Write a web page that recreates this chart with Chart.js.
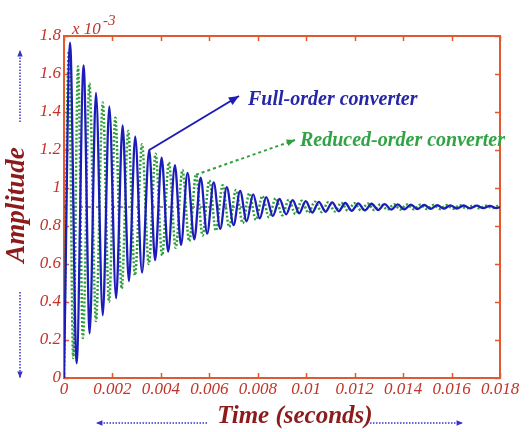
<!DOCTYPE html>
<html>
<head>
<meta charset="utf-8">
<script src="https://cdn.jsdelivr.net/npm/chart.js@4.4.1/dist/chart.umd.min.js"></script>
<style>
  html, body { margin: 0; padding: 0; background: #ffffff; }
  canvas { display: block; }
</style>
</head>
<body>
<canvas id="responseChart" width="531" height="432"></canvas>
<script>
// full-order converter response (amplitude in units of 1e-3)
const fullTime = [0, 0.00025, 0.00052, 0.00081, 0.00106, 0.00132, 0.0016, 0.00187, 0.00215, 0.00242, 0.00268, 0.00294,
    0.00322, 0.00352, 0.00376, 0.00403, 0.0043, 0.00458, 0.00483, 0.0051, 0.00538, 0.00564, 0.00591, 0.00618,
    0.00645, 0.00672, 0.007, 0.00727, 0.00754, 0.00781, 0.00808, 0.00835, 0.00862, 0.0089, 0.00917, 0.00944,
    0.00971, 0.00998, 0.01025, 0.01052, 0.0108, 0.01107, 0.01134, 0.01161, 0.01188, 0.01215, 0.01242, 0.0127,
    0.01297, 0.01324, 0.01351, 0.01378, 0.01405, 0.01432, 0.0146, 0.01487, 0.01514, 0.01541, 0.01568, 0.01595,
    0.01622, 0.0165, 0.01677, 0.01704, 0.01731, 0.01758, 0.01785, 0.018];
const fullAmp = [0, 1.765, 0.077, 1.645, 0.235, 1.50, 0.33, 1.43, 0.42, 1.33, 0.51, 1.27,
    0.555, 1.20, 0.62, 1.16, 0.665, 1.12, 0.70, 1.08, 0.73, 1.055, 0.76, 1.03,
    0.785, 1.005, 0.805, 0.985, 0.825, 0.966, 0.84, 0.952, 0.853, 0.942, 0.861, 0.936,
    0.867, 0.931, 0.871, 0.927, 0.875, 0.924, 0.878, 0.921, 0.88, 0.919, 0.882, 0.917,
    0.884, 0.915, 0.886, 0.914, 0.887, 0.912, 0.889, 0.911, 0.89, 0.91, 0.891, 0.909,
    0.892, 0.908, 0.893, 0.907, 0.894, 0.906, 0.894, 0.9];

// reduced-order converter response
const reducedTime = [0, 0.0002, 0.00038, 0.00058, 0.00078, 0.00105, 0.00132, 0.0016, 0.00186, 0.00212, 0.00238, 0.00265,
    0.00293, 0.00322, 0.0035, 0.00378, 0.00405, 0.00433, 0.00461, 0.00489, 0.00517, 0.00545, 0.00572, 0.006,
    0.00627, 0.00655, 0.00682, 0.0071, 0.00738, 0.00765, 0.00792, 0.00819, 0.00846, 0.00874, 0.00901, 0.00928,
    0.00955, 0.00982, 0.01009, 0.01036, 0.01064, 0.01091, 0.01118, 0.01145, 0.01172, 0.01199, 0.01226, 0.01254,
    0.01281, 0.01308, 0.01335, 0.01362, 0.01389, 0.01416, 0.01444, 0.01471, 0.01498, 0.01525, 0.01552, 0.01579,
    0.01606, 0.01634, 0.01661, 0.01688, 0.01715, 0.01742, 0.01769, 0.01796, 0.018];
const reducedAmp = [0, 1.72, 0.105, 1.64, 0.21, 1.55, 0.30, 1.45, 0.40, 1.37, 0.47, 1.30,
    0.54, 1.23, 0.60, 1.18, 0.645, 1.135, 0.685, 1.095, 0.72, 1.07, 0.75, 1.04,
    0.775, 1.015, 0.795, 0.99, 0.815, 0.972, 0.832, 0.958, 0.846, 0.946, 0.856, 0.938,
    0.863, 0.933, 0.869, 0.928, 0.873, 0.925, 0.877, 0.922, 0.88, 0.92, 0.882, 0.918,
    0.884, 0.916, 0.886, 0.914, 0.887, 0.913, 0.888, 0.912, 0.889, 0.911, 0.89, 0.91,
    0.891, 0.909, 0.892, 0.908, 0.893, 0.907, 0.894, 0.906, 0.9];

// dashed steady-state reference
const steadyLevel = 0.9;
const steadyEnd = 0.008;
const xTicks = [0, 0.002, 0.004, 0.006, 0.008, 0.01, 0.012, 0.014, 0.016, 0.018];
const yTicks = [0, 0.2, 0.4, 0.6, 0.8, 1, 1.2, 1.4, 1.6, 1.8];

const fullIdx = 13;     // peak the "Full-order" arrow points at
const reducedIdx = 21;  // peak the "Reduced-order" arrow points at

const axisColor = '#e4582e';
const labelColor = '#c0352a';
const titleColor = '#8c1b1b';
const blue = '#1c1cb8';
const green = '#2f9e3c';
const serif = '"Liberation Serif", "DejaVu Serif", serif';

const toPoints = (xs, ys) => xs.map((t, i) => ({ x: t, y: ys[i] }));

// small filled arrow head at (x2, y2) pointing away from (x1, y1)
function arrowHead(ctx, x1, y1, x2, y2, size, color) {
    const ang = Math.atan2(y2 - y1, x2 - x1);
    ctx.save();
    ctx.setLineDash([]);
    ctx.fillStyle = color;
    ctx.beginPath();
    ctx.moveTo(x2, y2);
    ctx.lineTo(x2 - size * Math.cos(ang - 0.4), y2 - size * Math.sin(ang - 0.4));
    ctx.lineTo(x2 - size * Math.cos(ang + 0.4), y2 - size * Math.sin(ang + 0.4));
    ctx.closePath();
    ctx.fill();
    ctx.restore();
}

function arrow(ctx, x1, y1, x2, y2, color, width, dash, head) {
    ctx.save();
    ctx.strokeStyle = color;
    ctx.lineWidth = width;
    ctx.setLineDash(dash);
    ctx.beginPath();
    ctx.moveTo(x1, y1);
    ctx.lineTo(x2, y2);
    ctx.stroke();
    ctx.restore();
    arrowHead(ctx, x1, y1, x2, y2, head, color);
}

// frame with inward ticks on all four sides
const framePlugin = {
    id: 'frame',
    beforeDatasetsDraw(chart) {
        const { ctx, chartArea: a, scales: { x, y } } = chart;
        ctx.save();
        ctx.strokeStyle = axisColor;
        ctx.lineWidth = 1.5;
        ctx.beginPath();
        xTicks.forEach(v => {
            const px = Math.round(x.getPixelForValue(v)) + 0.5;
            ctx.moveTo(px, a.bottom); ctx.lineTo(px, a.bottom - 5);
            ctx.moveTo(px, a.top); ctx.lineTo(px, a.top + 5);
        });
        yTicks.forEach(v => {
            const py = Math.round(y.getPixelForValue(v)) + 0.5;
            ctx.moveTo(a.left, py); ctx.lineTo(a.left + 5, py);
            ctx.moveTo(a.right, py); ctx.lineTo(a.right - 5, py);
        });
        ctx.stroke();
        ctx.lineWidth = 2;
        ctx.strokeRect(a.left, a.top, a.width, a.height);
        ctx.restore();
    }
};

// labels, annotation arrows and axis titles
const notesPlugin = {
    id: 'notes',
    afterDraw(chart) {
        const { ctx, scales: { x, y } } = chart;
        ctx.save();

        // exponent above the y axis
        ctx.fillStyle = labelColor;
        ctx.font = 'italic 17px ' + serif;
        ctx.textBaseline = 'alphabetic';
        ctx.textAlign = 'left';
        ctx.fillText('x 10', 72, 34);
        ctx.font = 'italic 15px ' + serif;
        ctx.fillText('-3', 103, 25);

        // full-order annotation
        const fx = x.getPixelForValue(fullTime[fullIdx]);
        const fy = y.getPixelForValue(fullAmp[fullIdx]);
        arrow(ctx, fx, fy, 239, 96, blue, 2, [], 11);
        ctx.fillStyle = '#2626a6';
        ctx.font = 'italic bold 20px ' + serif;
        ctx.textBaseline = 'middle';
        ctx.fillText('Full-order converter', 248, 100);

        // reduced-order annotation
        const rx = x.getPixelForValue(reducedTime[reducedIdx]);
        const ry = y.getPixelForValue(reducedAmp[reducedIdx]);
        arrow(ctx, rx, ry, 295, 140, green, 2, [3, 3], 9);
        ctx.fillStyle = '#32a345';
        ctx.fillText('Reduced-order converter', 300, 141);

        // axis titles with dotted arrows
        ctx.fillStyle = titleColor;
        ctx.font = 'italic bold 25px ' + serif;
        ctx.textAlign = 'center';
        ctx.fillText('Time (seconds)', 295, 417);
        arrow(ctx, 207, 423, 96, 423, '#3535c0', 1.5, [1.5, 1.5], 7);
        arrow(ctx, 370, 423, 463, 423, '#3535c0', 1.5, [1.5, 1.5], 7);

        ctx.save();
        ctx.translate(17, 205);
        ctx.rotate(-Math.PI / 2);
        ctx.font = 'italic bold 27px ' + serif;
        ctx.fillText('Amplitude', 0, 0);
        ctx.restore();
        arrow(ctx, 20, 122, 20, 50, '#3535c0', 1.5, [1.5, 1.5], 7);
        arrow(ctx, 20, 292, 20, 378, '#3535c0', 1.5, [1.5, 1.5], 7);

        ctx.restore();
    }
};

document.addEventListener('DOMContentLoaded', function () {
    const ctxChart = document.getElementById('responseChart');
    new Chart(ctxChart, {
        type: 'line',
        data: {
            datasets: [
                {
                    label: 'Full-order converter',
                    data: toPoints(fullTime, fullAmp),
                    borderColor: blue,
                    borderWidth: 2.3,
                    pointRadius: 0,
                    cubicInterpolationMode: 'monotone',
                    order: 0
                },
                {
                    label: 'Reduced-order converter',
                    data: toPoints(reducedTime, reducedAmp),
                    borderColor: green,
                    borderWidth: 2.5,
                    borderDash: [2, 2],
                    pointRadius: 0,
                    cubicInterpolationMode: 'monotone',
                    order: 1
                },
                {
                    label: 'Steady state',
                    data: [{ x: xTicks[0], y: steadyLevel }, { x: steadyEnd, y: steadyLevel }],
                    borderColor: '#222222',
                    borderWidth: 1,
                    borderDash: [3, 5],
                    pointRadius: 0,
                    order: 2
                }
            ]
        },
        options: {
            responsive: false,
            animation: false,
            layout: { padding: { left: 0, top: 36, right: 31, bottom: 0 } },
            plugins: {
                legend: { display: false },
                tooltip: { enabled: false }
            },
            scales: {
                x: {
                    type: 'linear',
                    min: 0,
                    max: 0.018,
                    afterBuildTicks: (scale) => { scale.ticks = xTicks.map(v => ({ value: v })); },
                    afterFit: (scale) => { scale.height = 54; },
                    grid: { display: false, drawTicks: false },
                    border: { display: false },
                    ticks: {
                        padding: 1,
                        maxRotation: 0,
                        color: labelColor,
                        font: { family: serif, style: 'italic', size: 17 },
                        callback: (v) => String(+v.toFixed(3))
                    }
                },
                y: {
                    min: 0,
                    max: 1.8,
                    afterBuildTicks: (scale) => { scale.ticks = yTicks.map(v => ({ value: v })); },
                    afterFit: (scale) => { scale.width = 64; },
                    grid: { display: false, drawTicks: false },
                    border: { display: false },
                    ticks: {
                        padding: 3,
                        color: labelColor,
                        font: { family: serif, style: 'italic', size: 17 },
                        callback: (v) => String(+v.toFixed(1))
                    }
                }
            }
        },
        plugins: [framePlugin, notesPlugin]
    });
});
</script>
</body>
</html>
